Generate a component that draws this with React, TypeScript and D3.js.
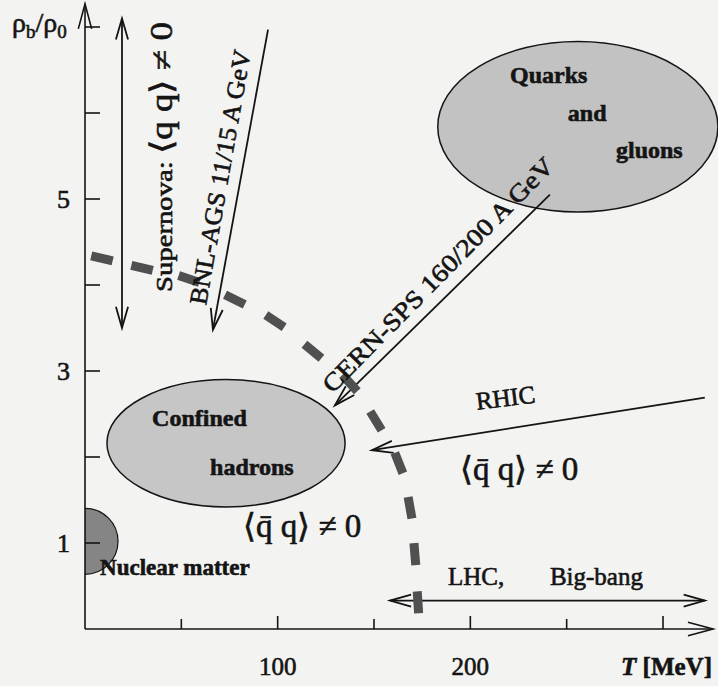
import React from "react";
import * as d3 from "d3";

// axis ticks (T in MeV, density in units of rho0)
const xTicks = [50, 100, 150, 200, 250, 300];
const xLabels = [100, 200];
const yTicks = [1, 2, 3, 4, 5, 6, 7];
const yLabels = [1, 3, 5];

// phase boundary (dashed): dash centres
const boundaryT = [8.8, 29.6, 54.0, 77.8, 98.6, 118.3, 137.5, 151.0, 162.9, 168.7, 171.2, 172.8];
const boundaryRho = [4.31, 4.2, 4.07, 3.83, 3.58, 3.23, 2.86, 2.42, 1.93, 1.41, 0.87, 0.31];

// regions
const regions = [
  { id: "qgp", T: 255.8, rho: 5.84, rT: 72.7, rRho: 0.99, fill: "#c2c2c2" },
  { id: "hadrons", T: 73.2, rho: 2.16, rT: 61.8, rRho: 0.74, fill: "#c6c6c6" },
];
const nuclear = { T: 0, rho: 1.02, r: 33 };

// trajectories
const arrows = [
  { id: "supernova", from: [19.2, 3.5], to: [19.2, 7.1], both: true },
  { id: "bnl", from: [95.0, 6.97], to: [66.4, 3.48], both: false },
  { id: "cern", from: [241.3, 5.05], to: [129.7, 2.6], both: false },
  { id: "rhic", from: [321.7, 2.69], to: [148.9, 2.08], both: false },
  { id: "lhc", from: [158.3, 0.33], to: [321.7, 0.33], both: true },
];

const qq = "\u27E8q\u0304 q\u27E9 \u2260 0";

const labels = [
  { text: "Quarks", T: 220.6, rho: 6.35, rot: 0, size: 24, bold: true, len: 0 },
  { text: "and", T: 250.6, rho: 5.91, rot: 0, size: 24, bold: true, len: 0 },
  { text: "gluons", T: 275.6, rho: 5.48, rot: 0, size: 24, bold: true, len: 0 },
  { text: "Confined", T: 34.8, rho: 2.36, rot: 0, size: 24, bold: true, len: 0 },
  { text: "hadrons", T: 64.9, rho: 1.79, rot: 0, size: 24, bold: true, len: 0 },
  { text: "Nuclear matter", T: 7.8, rho: 0.63, rot: 0, size: 23, bold: true, len: 0 },
  { text: qq, T: 82.0, rho: 1.07, rot: 0, size: 33, bold: false, len: 0 },
  { text: qq, T: 194.6, rho: 1.73, rot: 0, size: 33, bold: false, len: 0 },
  { text: "RHIC", T: 203.4, rho: 2.55, rot: -7, size: 25, bold: false, len: 0 },
  { text: "LHC,", T: 188.4, rho: 0.51, rot: 0, size: 25, bold: false, len: 0 },
  { text: "Big-bang", T: 241.3, rho: 0.51, rot: 0, size: 25, bold: false, len: 0 },
  { text: "BNL-AGS  11/15 A GeV", T: 62.8, rho: 3.76, rot: -80, size: 25, bold: false, len: 258 },
  { text: "CERN-SPS 160/200 A GeV", T: 128.5, rho: 2.73, rot: -45.5, size: 25, bold: false, len: 318 },
];

const W = 718;
const H = 686;
const ink = "#141414";
const font = "'Liberation Serif', 'Times New Roman', serif";

function head(x: number, y: number, ang: number, len = 22, spread = 0.28) {
  const a1 = ang + Math.PI - spread;
  const a2 = ang + Math.PI + spread;
  return `M${x + len * Math.cos(a1)},${y + len * Math.sin(a1)} L${x},${y} L${x + len * Math.cos(a2)},${y + len * Math.sin(a2)}`;
}

export default function App() {
  const x = d3.scaleLinear().domain([0, 300]).range([85, 663]);
  const y = d3.scaleLinear().domain([0, 7]).range([629, 27]);
  const x0 = x(0);
  const y0 = y(0);
  const xEnd = x(326);
  const yTop = y(7.27);

  // boundary dashes, each centred on a read point, along the curve
  const pts = boundaryT.map((t, i) => [x(t), y(boundaryRho[i])]);
  const dashes = pts.map((p, i) => {
    const a = pts[Math.max(0, i - 1)];
    const b = pts[Math.min(pts.length - 1, i + 1)];
    const ang = Math.atan2(b[1] - a[1], b[0] - a[0]);
    const h = 11;
    return [p[0] - h * Math.cos(ang), p[1] - h * Math.sin(ang), p[0] + h * Math.cos(ang), p[1] + h * Math.sin(ang)];
  });

  const textStyle = { paintOrder: "stroke" as const };

  return (
    <svg width={W} height={H} style={{ position: "absolute", left: 0, top: 0 }} fontFamily={font}>
      <rect width={W} height={H} fill="#f3f3f1" />
      <defs>
        <clipPath id="rightOfAxis">
          <rect x={x0} y={0} width={W} height={H} />
        </clipPath>
      </defs>

      {/* regions */}
      {regions.map((r) => (
        <ellipse
          key={r.id}
          cx={x(r.T)}
          cy={y(r.rho)}
          rx={x(r.T + r.rT) - x(r.T)}
          ry={y(r.rho - r.rRho) - y(r.rho)}
          fill={r.fill}
          stroke={ink}
          strokeWidth={1.5}
        />
      ))}
      <circle
        cx={x(nuclear.T)}
        cy={y(nuclear.rho)}
        r={nuclear.r}
        fill="#858585"
        stroke={ink}
        strokeWidth={1.2}
        clipPath="url(#rightOfAxis)"
      />

      {/* axes */}
      <g stroke={ink} strokeWidth={1.6} fill="none">
        <line x1={x0} y1={y0} x2={xEnd} y2={y0} />
        <path d={head(xEnd, y0, 0, 26, 0.26)} />
        <line x1={x0} y1={y0} x2={x0} y2={yTop} />
        <path d={head(x0, yTop, -Math.PI / 2, 26, 0.26)} />
        {xTicks.map((t) => (
          <line key={t} x1={x(t)} y1={y0} x2={x(t)} y2={y0 - (t % 100 === 0 ? 13 : 10)} />
        ))}
        {yTicks.map((t) => (
          <line key={t} x1={x0} y1={y(t)} x2={x0 + 15} y2={y(t)} />
        ))}
      </g>
      <g fill={ink} stroke={ink} strokeWidth={0.6} style={textStyle}>
        {xLabels.map((t) => (
          <text key={t} x={x(t)} y={675} textAnchor="middle" fontSize={25}>
            {t}
          </text>
        ))}
        {yLabels.map((t) => (
          <text key={t} x={70} y={y(t) + 9} textAnchor="end" fontSize={26}>
            {t}
          </text>
        ))}
        <text x={712} y={675} textAnchor="end" fontSize={25} fontWeight="bold">
          <tspan fontStyle="italic">T</tspan> [MeV]
        </text>
        <text x={12} y={32} fontSize={28}>
          ρ<tspan fontSize={19} dy={6}>b</tspan>
          <tspan dy={-6}>/ρ</tspan>
          <tspan fontSize={19} dy={6}>0</tspan>
        </text>
      </g>

      {/* trajectories */}
      <g stroke={ink} strokeWidth={1.8} fill="none">
        {arrows.map((a) => {
          const fx = x(a.from[0]);
          const fy = y(a.from[1]);
          const tx = x(a.to[0]);
          const ty = y(a.to[1]);
          const ang = Math.atan2(ty - fy, tx - fx);
          return (
            <g key={a.id}>
              <line x1={fx} y1={fy} x2={tx} y2={ty} />
              <path d={head(tx, ty, ang)} />
              {a.both && <path d={head(fx, fy, ang + Math.PI)} />}
            </g>
          );
        })}
      </g>

      {/* phase boundary */}
      <g stroke="#505050" strokeWidth={9}>
        {dashes.map((d, i) => (
          <line key={i} x1={d[0]} y1={d[1]} x2={d[2]} y2={d[3]} />
        ))}
      </g>

      {/* labels */}
      <g fill={ink} stroke={ink} strokeWidth={0.6} style={textStyle}>
        {labels.map((l, i) => (
          <text
            key={i}
            transform={`translate(${x(l.T)},${y(l.rho)}) rotate(${l.rot})`}
            fontSize={l.size}
            fontWeight={l.bold ? "bold" : "normal"}
            textLength={l.len || undefined}
            lengthAdjust={l.len ? "spacingAndGlyphs" : undefined}
          >
            {l.text}
          </text>
        ))}
        <text transform={`translate(${x(45.1)},${y(3.92)}) rotate(-90)`} fontSize={24} textLength={270} lengthAdjust="spacingAndGlyphs">
          Supernova: <tspan fontSize={31}>{"\u27E8q q\u27E9 \u2260 0"}</tspan>
        </text>
      </g>
    </svg>
  );
}
